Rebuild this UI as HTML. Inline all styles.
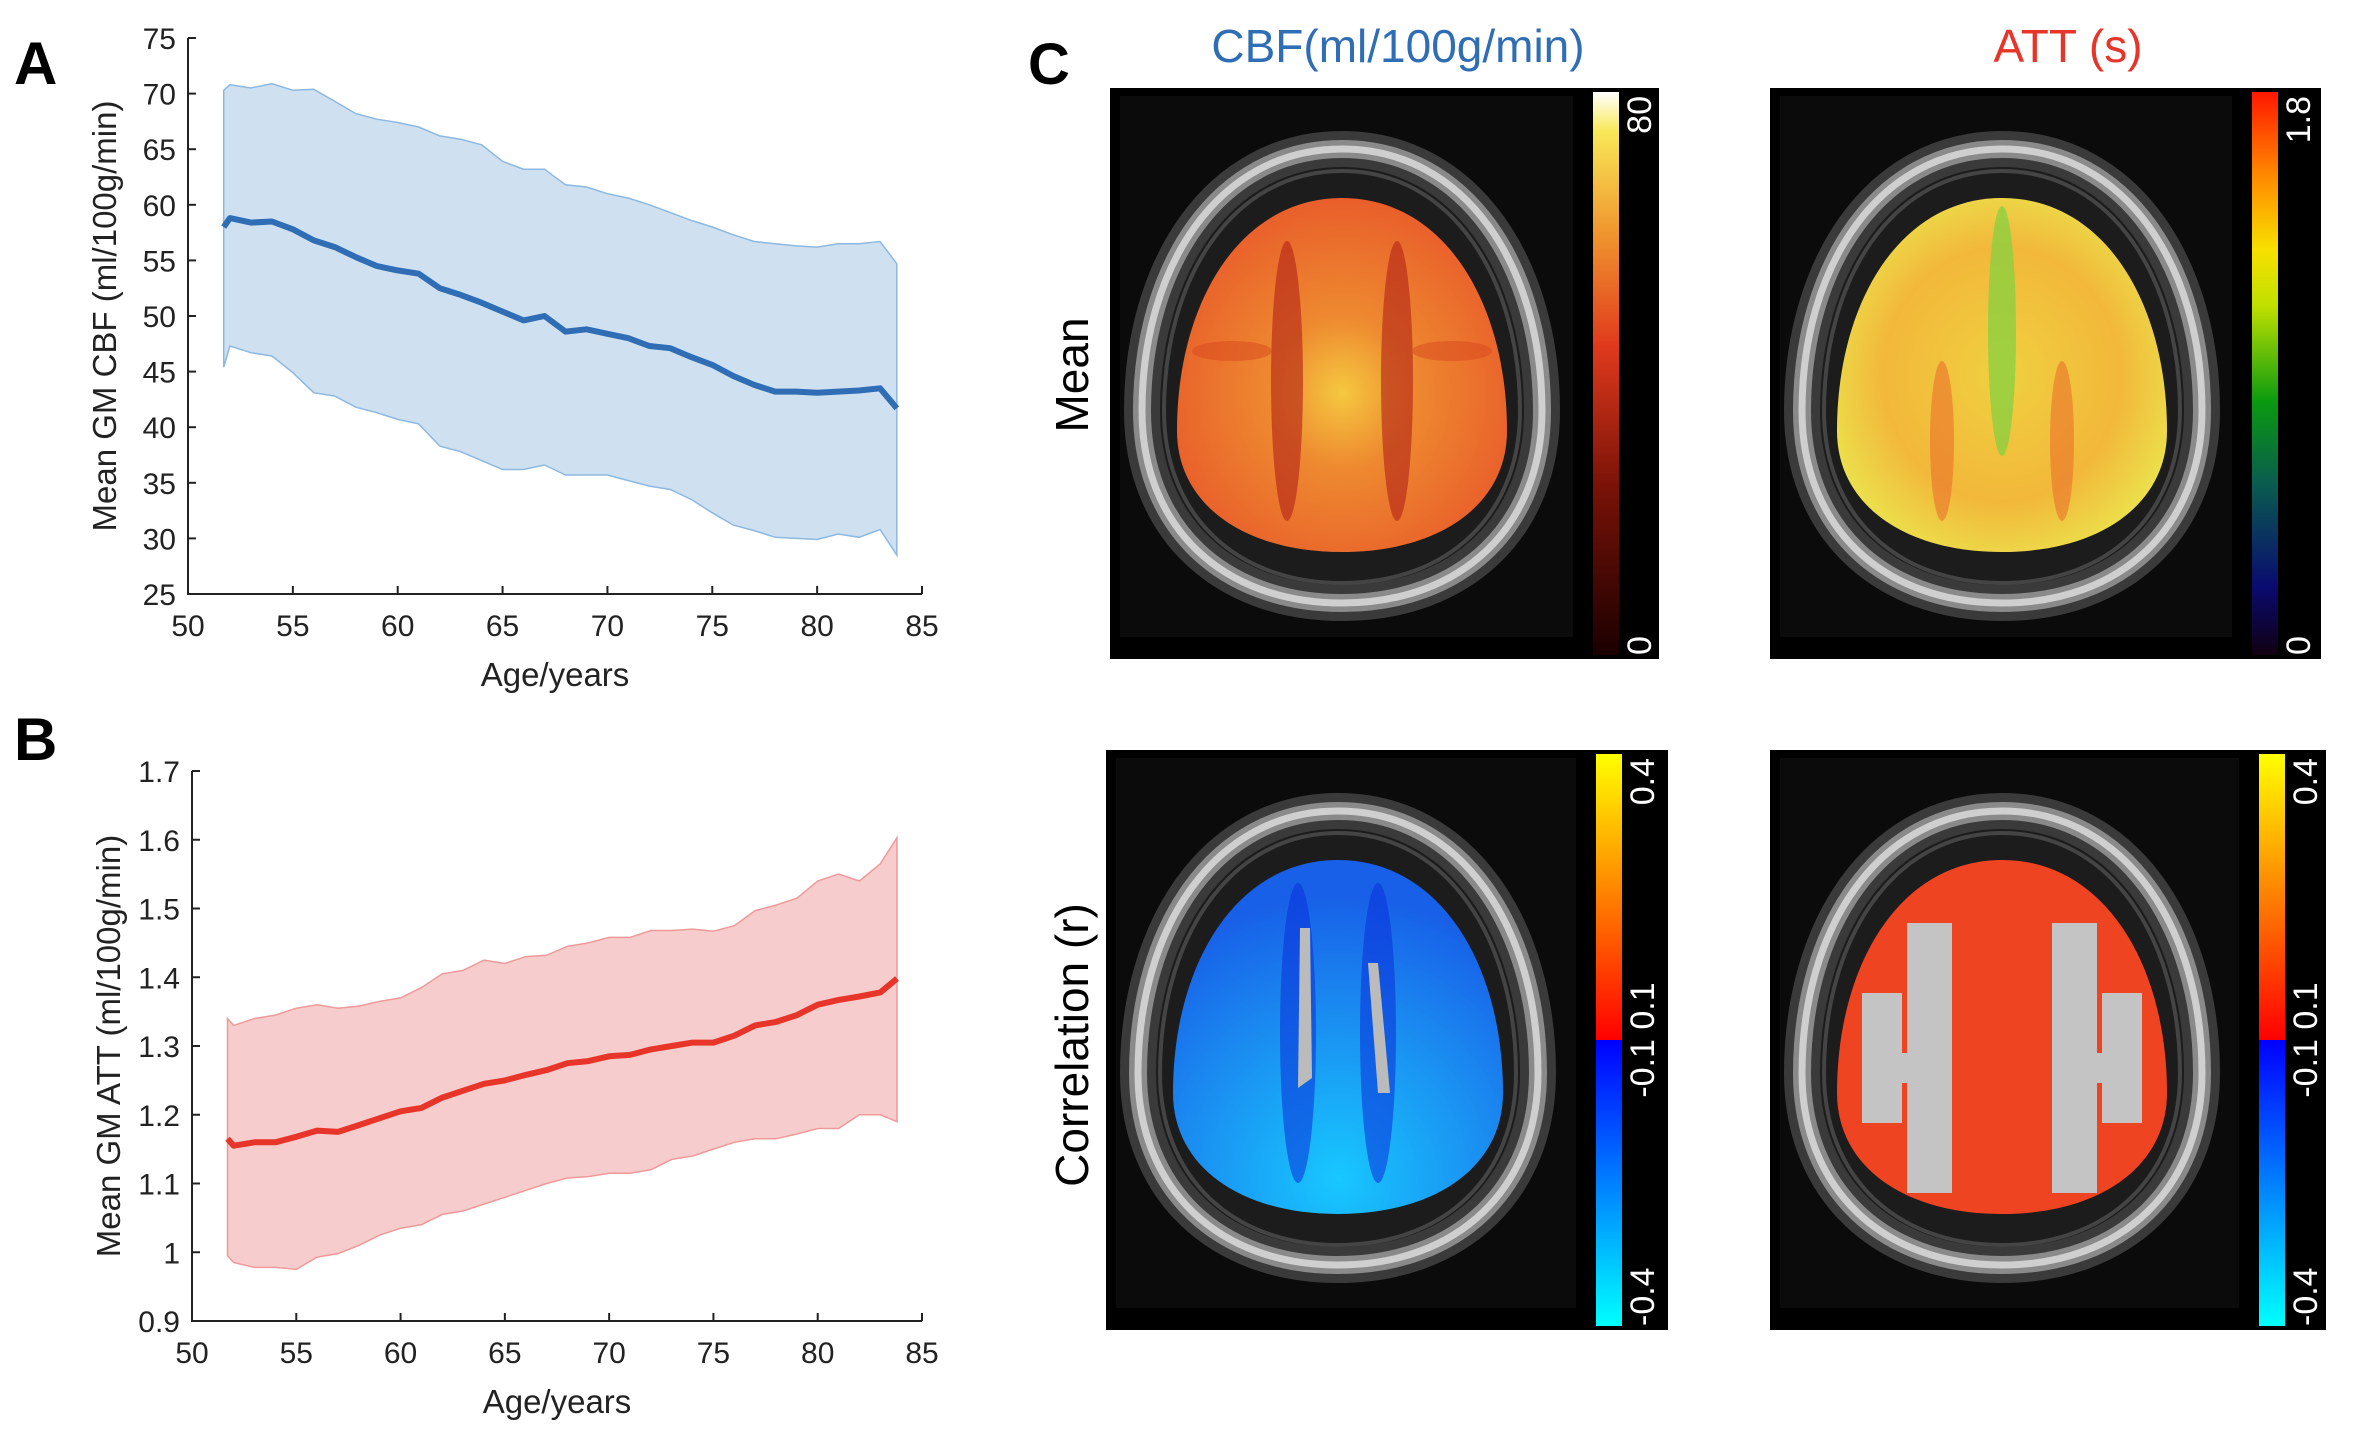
<!DOCTYPE html>
<html><head><meta charset="utf-8"><style>
html,body{margin:0;padding:0;background:#fff;}
svg text{font-family:"Liberation Sans",sans-serif;}
</style></head><body>
<svg id="fig" xmlns="http://www.w3.org/2000/svg" width="2378" height="1440" viewBox="0 0 2378 1440">
<defs>
  <linearGradient id="cbHot" x1="0" y1="1" x2="0" y2="0">
    <stop offset="0" stop-color="#1a0000"/><stop offset="0.3" stop-color="#7a1208"/><stop offset="0.55" stop-color="#e03a1c"/><stop offset="0.75" stop-color="#f0962e"/><stop offset="0.93" stop-color="#f8e858"/><stop offset="1" stop-color="#ffffff"/>
  </linearGradient>
  <linearGradient id="cbJet" x1="0" y1="1" x2="0" y2="0">
    <stop offset="0" stop-color="#100010"/><stop offset="0.12" stop-color="#0a0a70"/><stop offset="0.3" stop-color="#0a5a50"/><stop offset="0.45" stop-color="#0a9a10"/><stop offset="0.62" stop-color="#c0e000"/><stop offset="0.72" stop-color="#f8e000"/><stop offset="0.85" stop-color="#ff8a00"/><stop offset="1" stop-color="#ff1800"/>
  </linearGradient>
  <linearGradient id="cbCorr" x1="0" y1="1" x2="0" y2="0">
    <stop offset="0" stop-color="#00ffff"/><stop offset="0.5" stop-color="#0000ff"/><stop offset="0.5" stop-color="#ff0000"/><stop offset="1" stop-color="#ffff00"/>
  </linearGradient>
  <radialGradient id="gHot" cx="0.5" cy="0.55" r="0.6">
    <stop offset="0" stop-color="#f5c840"/><stop offset="0.35" stop-color="#ee8a30"/><stop offset="1" stop-color="#e8582a"/>
  </radialGradient>
  <radialGradient id="gAtt" cx="0.5" cy="0.5" r="0.6">
    <stop offset="0" stop-color="#f0d040"/><stop offset="0.6" stop-color="#f2b83a"/><stop offset="1" stop-color="#eaea50"/>
  </radialGradient>
  <radialGradient id="gBlue" cx="0.5" cy="0.9" r="0.8">
    <stop offset="0" stop-color="#18c8ff"/><stop offset="0.6" stop-color="#1a8af0"/><stop offset="1" stop-color="#1860e8"/>
  </radialGradient>
</defs>
<g id="chartA"></g>
<g id="chartB"></g>
<g id="panelC"></g>
<text x="14" y="84" font-size="60" font-weight="bold">A</text>
<text x="14" y="760" font-size="60" font-weight="bold">B</text>
<text x="1028" y="84" font-size="58" font-weight="bold">C</text>
<text x="1398" y="62" font-size="46" fill="#2f6db5" text-anchor="middle">CBF(ml/100g/min)</text>
<text x="2068" y="62" font-size="46" fill="#e8352a" text-anchor="middle">ATT (s)</text>
<text transform="translate(1088,375) rotate(-90)" font-size="46" text-anchor="middle">Mean</text>
<text transform="translate(1088,1045) rotate(-90)" font-size="46" text-anchor="middle">Correlation (r)</text>
</svg>
<script>
const ages = [51.7,52,53,54,55,56,57,58,59,60,61,62,63,64,65,66,67,68,69,70,71,72,73,74,75,76,77,78,79,80,81,82,83,83.8];
const cbfMean = [58,58.8,58.4,58.5,57.8,56.8,56.2,55.3,54.5,54.1,53.8,52.5,51.9,51.2,50.4,49.6,50,48.6,48.8,48.4,48,47.3,47.1,46.3,45.6,44.6,43.8,43.2,43.2,43.1,43.2,43.3,43.5,41.7];
const cbfUpper = [70.3,70.8,70.5,70.9,70.3,70.4,69.3,68.2,67.7,67.4,67,66.2,65.9,65.4,63.9,63.2,63.2,61.8,61.6,61,60.6,60,59.3,58.6,58,57.3,56.7,56.5,56.3,56.2,56.5,56.5,56.7,54.7];
const cbfLower = [45.4,47.3,46.7,46.4,44.9,43.1,42.8,41.8,41.3,40.7,40.3,38.3,37.8,37,36.2,36.2,36.6,35.7,35.7,35.7,35.2,34.7,34.4,33.5,32.3,31.2,30.7,30.1,30,29.9,30.4,30.1,30.8,28.5];
const attMean = [1.165,1.155,1.16,1.16,1.168,1.177,1.175,1.185,1.195,1.205,1.21,1.225,1.235,1.245,1.25,1.258,1.265,1.275,1.278,1.285,1.287,1.295,1.3,1.305,1.305,1.315,1.33,1.335,1.345,1.36,1.367,1.372,1.378,1.398];
const attUpper = [1.34,1.33,1.34,1.345,1.355,1.36,1.355,1.358,1.365,1.37,1.385,1.405,1.41,1.425,1.42,1.43,1.432,1.445,1.45,1.458,1.458,1.468,1.468,1.47,1.467,1.475,1.497,1.505,1.515,1.54,1.55,1.54,1.565,1.603];
const attLower = [0.995,0.985,0.978,0.978,0.975,0.993,0.998,1.01,1.025,1.035,1.04,1.055,1.06,1.07,1.08,1.09,1.1,1.108,1.11,1.115,1.115,1.12,1.135,1.14,1.15,1.16,1.165,1.165,1.172,1.18,1.18,1.2,1.2,1.19];
const xTicks = [50,55,60,65,70,75,80,85];
const cbfTicks = [25,30,35,40,45,50,55,60,65,70,75];
const attTicks = [0.9,1,1.1,1.2,1.3,1.4,1.5,1.6,1.7];
const attTickLabels = ["0.9","1","1.1","1.2","1.3","1.4","1.5","1.6","1.7"];

const NS = "http://www.w3.org/2000/svg";
function mk(tag, attrs, parent){const e=document.createElementNS(NS,tag);for(const k in attrs)e.setAttribute(k,attrs[k]);parent.appendChild(e);return e;}

function drawChart(g, cfg){
  const xS = v => cfg.x0 + (v-50)/(85-50)*(cfg.x1-cfg.x0);
  const yS = v => cfg.y1 - (v-cfg.ymin)/(cfg.ymax-cfg.ymin)*(cfg.y1-cfg.y0);
  let d = ages.map((a,i)=>(i?"L":"M")+xS(a).toFixed(1)+","+yS(cfg.upper[i]).toFixed(1)).join("");
  for(let i=ages.length-1;i>=0;i--) d += "L"+xS(ages[i]).toFixed(1)+","+yS(cfg.lower[i]).toFixed(1);
  d += "Z";
  const band = mk("path",{d:d,fill:cfg.band,stroke:cfg.bandStroke,"stroke-width":1.5},g);
  
  
  const line = mk("path",{d:ages.map((a,i)=>(i?"L":"M")+xS(a).toFixed(1)+","+yS(cfg.mean[i]).toFixed(1)).join(""),fill:"none",stroke:cfg.line,"stroke-width":6,"stroke-linejoin":"round"},g);
  
  
  const ax = mk("path",{d:`M${cfg.x0},${cfg.y0}V${cfg.y1}H${cfg.x1}`,fill:"none",stroke:"#222","stroke-width":2},g);
  
  
  xTicks.forEach(t=>{
    mk("line",{x1:xS(t),x2:xS(t),y1:cfg.y1,y2:cfg.y1-8,stroke:"#222","stroke-width":2},g);
    const tx = mk("text",{x:xS(t),y:cfg.y1+42,"font-size":30,"text-anchor":"middle",fill:"#222"},g);
    tx.textContent = t;
    
    
  });
  cfg.ticks.forEach((t,i)=>{
    mk("line",{x1:cfg.x0,x2:cfg.x0+8,y1:yS(t),y2:yS(t),stroke:"#222","stroke-width":2},g);
    const ty = mk("text",{x:cfg.x0-12,y:yS(t)+11,"font-size":30,"text-anchor":"end",fill:"#222"},g);
    ty.textContent = cfg.labels[i];
    
    
  });
  const xt = mk("text",{x:(cfg.x0+cfg.x1)/2,y:cfg.y1+92,"font-size":33,"text-anchor":"middle",fill:"#222"},g);
  xt.textContent = "Age/years";
  
  
  const yt = mk("text",{transform:`translate(${cfg.x0-72},${(cfg.y0+cfg.y1)/2}) rotate(-90)`,"font-size":33,"text-anchor":"middle",fill:"#222"},g);
  yt.textContent = cfg.ytitle;
  
  
}
drawChart(document.getElementById("chartA"),{x0:188,x1:922,y0:38,y1:594,ymin:25,ymax:75,ticks:cbfTicks,labels:cbfTicks.map(String),mean:cbfMean,upper:cbfUpper,lower:cbfLower,band:"#cfe1f0",bandStroke:"#8db8e0",line:"#2f6db5",ytitle:"Mean GM CBF (ml/100g/min)"});
drawChart(document.getElementById("chartB"),{x0:192,x1:922,y0:771,y1:1321,ymin:0.9,ymax:1.7,ticks:attTicks,labels:attTickLabels,mean:attMean,upper:attUpper,lower:attLower,band:"#f7cccc",bandStroke:"#ee9a9a",line:"#e8352a",ytitle:"Mean GM ATT (ml/100g/min)"});

function egg(cx,cy,rx,top,bot,mid){
  // top: distance to top, bot: distance to bottom, mid: y offset of widest point
  const wy = cy+mid;
  return `M${cx},${cy-top} C${cx+rx*0.62},${cy-top} ${cx+rx},${wy-(top+mid)*0.55} ${cx+rx},${wy} C${cx+rx},${wy+(bot-mid)*0.6} ${cx+rx*0.6},${cy+bot} ${cx},${cy+bot} C${cx-rx*0.6},${cy+bot} ${cx-rx},${wy+(bot-mid)*0.6} ${cx-rx},${wy} C${cx-rx},${wy-(top+mid)*0.55} ${cx-rx*0.62},${cy-top} ${cx},${cy-top}Z`;
}

const P = document.getElementById("panelC");
function brain(x,y,w,h,cbx,cbFill,top,bot,mid,kind,name){
  const g = mk("g",{},P);
  
  
  mk("rect",{x:x,y:y,width:w,height:h,fill:"#000"},g);
  mk("rect",{x:x+10,y:y+8,width:cbx-x-30,height:h-30,fill:"#0b0b0b"},g);
  const cx = x+232, cy = y+283;
  const sk = egg(cx,cy,200,222,232,40);
  mk("path",{d:sk,fill:"#1c1c1c",stroke:"#3a3a3a","stroke-width":36},g);
  mk("path",{d:sk,fill:"none",stroke:"#8a8a8a","stroke-width":18},g);
  mk("path",{d:sk,fill:"none",stroke:"#cfcfcf","stroke-width":7},g);
  mk("path",{d:egg(cx,cy,178,200,212,40),fill:"none",stroke:"#444","stroke-width":4},g);
  const bp = egg(cx,cy+5,165,178,176,55);
  if(kind==="attcorr"){
    mk("path",{d:bp,fill:"#ee4422"},g);
    [[-95,-110,45,270],[50,-110,45,270],[-140,-40,40,130],[100,-40,40,130],[-120,20,50,30],[75,20,50,30]].forEach(s=>mk("rect",{x:cx+s[0],y:cy+s[1],width:s[2],height:s[3],fill:"#c4c4c4"},g));
  } else {
    const fill = kind==="hot"?"url(#gHot)":kind==="att"?"url(#gAtt)":"url(#gBlue)";
    mk("path",{d:bp,fill:fill},g);
    if(kind==="hot"){
      [-55,55].forEach(o=>mk("ellipse",{cx:cx+o,cy:cy+10,rx:16,ry:140,fill:"#b52a18",opacity:0.65},g));
      [-110,110].forEach(o=>mk("ellipse",{cx:cx+o,cy:cy-20,rx:40,ry:10,fill:"#d8481e",opacity:0.5},g));
    } else if(kind==="att"){
      mk("ellipse",{cx:cx,cy:cy-40,rx:14,ry:125,fill:"#8cd040",opacity:0.8},g);
      [-60,60].forEach(o=>mk("ellipse",{cx:cx+o,cy:cy+70,rx:12,ry:80,fill:"#ea6a2a",opacity:0.55},g));
    } else {
      [-40,40].forEach(o=>mk("ellipse",{cx:cx+o,cy:cy,rx:18,ry:150,fill:"#0a30d8",opacity:0.55},g));
      mk("path",{d:`M${cx-38},${cy-105} l10,0 l2,150 l-14,10 z`,fill:"#bbb"},g);
      mk("path",{d:`M${cx+30},${cy-70} l10,0 l12,130 l-12,0 z`,fill:"#bbb"},g);
    }
  }
  mk("rect",{x:cbx,y:y+4,width:26,height:h-8,fill:cbFill},g);
  [[top,y+8],[bot,y+h-4]].forEach((l,i)=>{
    const t = mk("text",{transform:`translate(${cbx+58},${l[1]}) rotate(-90)`,"font-size":34,fill:"#fff","font-family":"Liberation Mono, monospace","text-anchor":i===0?"end":"start"},g);
    t.textContent = l[0];
    
    
  });
  if(mid){
    const t = mk("text",{transform:`translate(${cbx+58},${y+h/2}) rotate(-90)`,"font-size":34,fill:"#fff","font-family":"Liberation Mono, monospace","text-anchor":"middle"},g);
    t.textContent = mid;
    
    
  }
}
brain(1110,88,549,571,1593,"url(#cbHot)","80","0",null,"hot","cbf-mean-map");
brain(1770,88,551,571,2252,"url(#cbJet)","1.8","0",null,"att","att-mean-map");
brain(1106,750,562,580,1596,"url(#cbCorr)","0.4","-0.4","-0.1 0.1","blue","cbf-correlation-map");
brain(1770,750,556,580,2259,"url(#cbCorr)","0.4","-0.4","-0.1 0.1","attcorr","att-correlation-map");
</script>
</body></html>
